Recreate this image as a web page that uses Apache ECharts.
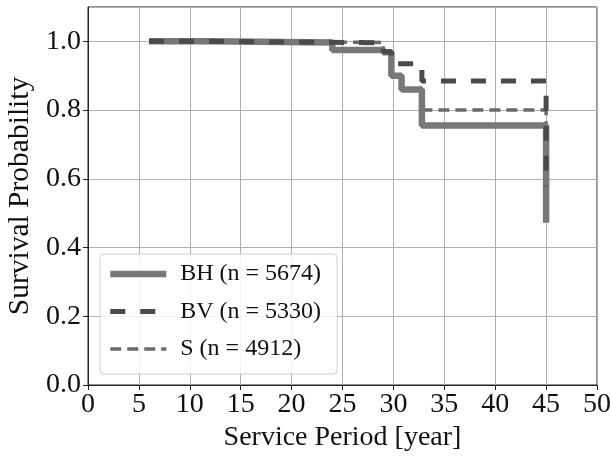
<!DOCTYPE html>
<html><head><meta charset="utf-8">
<script src="https://cdn.jsdelivr.net/npm/echarts@6/dist/echarts.min.js"></script>
<style>html,body{margin:0;padding:0;background:#fff}#c{width:610px;height:456px}</style>
</head><body><div id="c"></div>
<script>
const seriesNames = ['BH (n = 5674)', 'BV (n = 5330)', 'S (n = 4912)'];
const bhTimes = [6, 12, 24, 29, 29.8, 30.8, 32.8, 45];
const bhSurv  = [1.0, 0.997, 0.975, 0.968, 0.90, 0.86, 0.755, 0.472];
const bvTimes = [6, 12, 29, 29.8, 32.8, 45];
const bvSurv  = [1.0, 0.996, 0.97, 0.935, 0.885, 0.578];
const sTimes  = [6, 12, 29, 29.8, 30.8, 32.9, 45];
const sSurv   = [1.0, 0.997, 0.968, 0.90, 0.862, 0.80, 0.70];
const xTicks = [0, 5, 10, 15, 20, 25, 30, 35, 40, 45, 50];
const yTicks = [0.0, 0.2, 0.4, 0.6, 0.8, 1.0];

function pairs(t, s){ return t.map((x,i)=>[x, s[i]]); }
const font = 'Liberation Serif';
const styles = [
  {color:'#787878', width:6.5, type:'solid'},
  {color:'#4a4a4a', width:5, type:[15,15]},
  {color:'#6a6a6a', width:3.5, type:[11,6]}
];
const chart = echarts.init(document.getElementById('c'), null, {renderer:'canvas'});
chart.setOption({
  animation:false,
  backgroundColor:'#fff',
  grid:{left:88, right:13, top:7, bottom:71, show:true, borderColor:'#222', borderWidth:1, outerBoundsMode:'none', containLabel:false},
  xAxis:{type:'value', min:xTicks[0], max:xTicks[xTicks.length-1], interval:5,
    name:'Service Period [year]', nameLocation:'middle', nameGap:39,
    nameTextStyle:{fontFamily:font, fontSize:28, color:'#111'},
    axisLine:{show:true, lineStyle:{color:'#222'}},
    axisTick:{show:true, length:5, lineStyle:{color:'#222'}},
    axisLabel:{fontFamily:font, fontSize:28, color:'#111', margin:6},
    splitLine:{show:true, lineStyle:{color:'#b0b0b0', width:1}}},
  yAxis:{type:'value', min:0, max:1.1, interval:0.2,
    name:'Survival Probability', nameLocation:'middle', nameGap:46,
    nameTextStyle:{fontFamily:font, fontSize:29.5, color:'#111'},
    axisLine:{show:true, lineStyle:{color:'#222'}},
    axisTick:{show:true, length:5, lineStyle:{color:'#222'}},
    axisLabel:{fontFamily:font, fontSize:28, color:'#111', margin:7, showMaxLabel:false,
      formatter:v=> yTicks.some(t=>Math.abs(t-v)<1e-6) ? v.toFixed(1) : ''},
    splitLine:{show:true, lineStyle:{color:'#b0b0b0', width:1}}},
  legend:{left:100, top:254, orient:'vertical', itemWidth:56, itemHeight:14, itemGap:13.5,
    padding:[8,16,13,7], backgroundColor:'rgba(255,255,255,0.85)', borderColor:'#d0d0d0', borderWidth:1, borderRadius:4,
    textStyle:{fontFamily:font, fontSize:24, color:'#111', padding:[0,0,0,9]},
    itemStyle:{color:'transparent', borderWidth:0, opacity:0},
    data:seriesNames.map((n,i)=>({name:n, lineStyle:{color:styles[i].color, width:styles[i].width, type:styles[i].type, opacity:1}}))},
  series:[
    {name:seriesNames[0], type:'line', step:'end', symbol:'none', data:pairs(bhTimes,bhSurv), z:3,
      lineStyle:styles[0], itemStyle:{color:styles[0].color}},
    {name:seriesNames[1], type:'line', step:'end', symbol:'none', data:pairs(bvTimes,bvSurv), z:4,
      lineStyle:styles[1], itemStyle:{color:styles[1].color}},
    {name:seriesNames[2], type:'line', step:'end', symbol:'none', data:pairs(sTimes,sSurv), z:2,
      lineStyle:styles[2], itemStyle:{color:styles[2].color}}
  ]
});
</script></body></html>
